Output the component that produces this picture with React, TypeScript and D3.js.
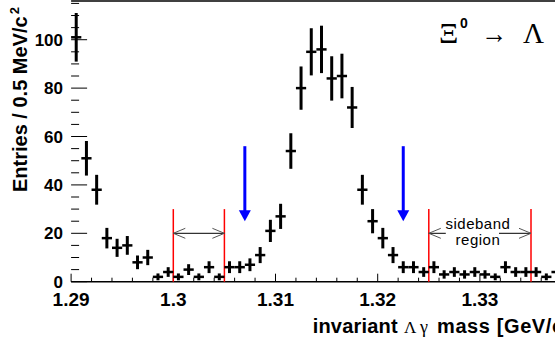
import * as d3 from 'd3'
import { useRef, useEffect } from 'react'

const W = 555, H = 347

// histogram: 1 MeV bins starting at 1.290 GeV
const binStart = 1.29
const binWidth = 0.001
const counts = [101, 51, 38, 18, 14, 15, 8, 10, 2, 4, 2, 5, 2, 6, 2, 6, 6, 7, 11, 21, 27,
  54, 80, 95, 96, 84, 85, 72, 38, 25, 18, 11, 6, 6, 4, 6, 3, 4, 3, 4, 3, 2, 6, 4, 4, 4, 2, 4]

const xTickMajor = [1.29, 1.3, 1.31, 1.32, 1.33]
const xTickLabels = ['1.29', '1.3', '1.31', '1.32', '1.33']
const yTickMajor = [0, 20, 40, 60, 80, 100]

// sideband limits (red lines) and signal window arrows (blue)
const sidebandEdges = [1.300, 1.305, 1.325, 1.335]
const redTop = 30
const sidebandPairs = [[1.300, 1.305], [1.325, 1.335]]
const arrowLevel = 20
const signalArrows = [1.307, 1.3225]
const blueFrom = 56, blueTo = 25

const SANS = '"Liberation Sans", Arial, Helvetica, sans-serif'
const SERIF = '"Liberation Serif", "Times New Roman", serif'

export default function App() {
  const svgRef = useRef<SVGSVGElement>(null)

  useEffect(() => {
    const svg = d3.select(svgRef.current)
    svg.selectAll('*').remove()

    const x = d3.scaleLinear().domain([1.29, 1.34]).range([71.1, 582.1])
    const y = d3.scaleLinear().domain([0, 116]).range([281.7, 1])
    const x0 = x(1.29), x1 = x(1.34)

    // frame: top line and bottom axis
    svg.append('line').attr('x1', x0).attr('x2', x1).attr('y1', y(116)).attr('y2', y(116))
      .attr('stroke', '#000').attr('stroke-width', 1.5)
    svg.append('line').attr('x1', x0).attr('x2', x1).attr('y1', y(0)).attr('y2', y(0))
      .attr('stroke', '#000').attr('stroke-width', 1.5)

    // x ticks (minor every 2 MeV)
    const xMinor = d3.range(0, 26).map(i => 1.29 + i * 0.002)
    xMinor.forEach(t => {
      const major = xTickMajor.some(m => Math.abs(m - t) < 1e-6)
      svg.append('line').attr('x1', x(t)).attr('x2', x(t))
        .attr('y1', y(0)).attr('y2', y(0) - (major ? 8 : 4))
        .attr('stroke', '#000').attr('stroke-width', 1)
    })
    xTickMajor.forEach((t, i) => {
      svg.append('text').attr('x', x(t)).attr('y', 306).attr('text-anchor', 'middle')
        .attr('font-family', SANS).attr('font-weight', 'bold').attr('font-size', 19)
        .text(xTickLabels[i])
    })

    // y ticks (minor every 5)
    d3.range(0, 116, 5).forEach(t => {
      const major = t % 20 === 0
      svg.append('line').attr('x1', x0).attr('x2', x0 + (major ? 16 : 8))
        .attr('y1', y(t)).attr('y2', y(t))
        .attr('stroke', '#000').attr('stroke-width', 1)
    })
    yTickMajor.forEach(t => {
      svg.append('text').attr('x', 63).attr('y', y(t) + 6).attr('text-anchor', 'end')
        .attr('font-family', SANS).attr('font-weight', 'bold').attr('font-size', 17)
        .text(t)
    })

    // axis titles
    const yt = svg.append('text').attr('transform', 'translate(27,192) rotate(-90)')
      .attr('font-family', SANS).attr('font-weight', 'bold').attr('font-size', 20)
    yt.append('tspan').text('Entries / 0.5 MeV/c')
    yt.append('tspan').attr('dy', -8).attr('dx', 2).attr('font-size', 13).text('2')

    const xtStyle = (s: any) => s.attr('y', 333).attr('font-size', 20)
    xtStyle(svg.append('text')).attr('x', 312.7).attr('font-family', SANS).attr('font-weight', 'bold')
      .attr('letter-spacing', 0.2).text('invariant')
    xtStyle(svg.append('text')).attr('x', 404).attr('font-family', SERIF).attr('font-size', 17).text('Λ')
    xtStyle(svg.append('text')).attr('x', 420).attr('font-family', SERIF).attr('font-size', 18).text('γ')
    xtStyle(svg.append('text')).attr('x', 437).attr('font-family', SANS).attr('font-weight', 'bold')
      .attr('letter-spacing', 0.6).text('mass [GeV/c²]')

    // title
    svg.append('text').attr('x', 439).attr('y', 43).attr('font-family', SERIF).attr('font-size', 30).text('Ξ')
    svg.append('text').attr('x', 460).attr('y', 28).attr('font-family', SANS).attr('font-weight', 'bold').attr('font-size', 14).text('0')
    svg.append('text').attr('x', 481).attr('y', 43).attr('font-family', SERIF).attr('font-size', 28)
      .attr('textLength', 26).attr('lengthAdjust', 'spacingAndGlyphs').text('→')
    svg.append('text').attr('x', 523).attr('y', 43).attr('font-family', SERIF).attr('font-size', 29).text('Λ')

    // red sideband lines
    sidebandEdges.forEach(e => {
      svg.append('line').attr('x1', x(e)).attr('x2', x(e)).attr('y1', y(0)).attr('y2', y(redTop))
        .attr('stroke', '#ff0000').attr('stroke-width', 1.5)
    })

    // double arrows marking the sidebands
    const ay = y(arrowLevel)
    sidebandPairs.forEach(([a, b], i) => {
      const xa = x(a), xb = x(b)
      if (i === 0) {
        svg.append('line').attr('x1', xa).attr('x2', xb).attr('y1', ay).attr('y2', ay)
          .attr('stroke', '#000').attr('stroke-width', 1)
      } else {
        svg.append('line').attr('x1', xa).attr('x2', xa + 17).attr('y1', ay).attr('y2', ay)
          .attr('stroke', '#000').attr('stroke-width', 1)
        svg.append('line').attr('x1', xb - 32).attr('x2', xb).attr('y1', ay).attr('y2', ay)
          .attr('stroke', '#000').attr('stroke-width', 1)
      }
      svg.append('path').attr('d', `M${xa + 12},${ay - 5}L${xa},${ay}L${xa + 12},${ay + 5}`)
        .attr('fill', 'none').attr('stroke', '#555').attr('stroke-width', 1)
      svg.append('path').attr('d', `M${xb - 12},${ay - 5}L${xb},${ay}L${xb - 12},${ay + 5}`)
        .attr('fill', 'none').attr('stroke', '#555').attr('stroke-width', 1)
    })
    const sbx = x((sidebandPairs[1][0] + sidebandPairs[1][1]) / 2) - 2
    svg.append('text').attr('x', sbx).attr('y', 229).attr('text-anchor', 'middle')
      .attr('font-family', SANS).attr('font-size', 15).attr('letter-spacing', 0.5).text('sideband')
    svg.append('text').attr('x', sbx).attr('y', 245).attr('text-anchor', 'middle')
      .attr('font-family', SANS).attr('font-size', 15).attr('letter-spacing', 0.5).text('region')

    // blue arrows
    signalArrows.forEach(a => {
      const ax = x(a), tip = y(blueTo)
      svg.append('line').attr('x1', ax).attr('x2', ax).attr('y1', y(blueFrom)).attr('y2', tip - 10)
        .attr('stroke', '#0000ff').attr('stroke-width', 3)
      svg.append('path').attr('d', `M${ax - 6},${tip - 11}L${ax + 6},${tip - 11}L${ax},${tip}Z`)
        .attr('fill', '#0000ff')
    })

    // histogram points with Poisson errors
    const pts = svg.append('g')
    counts.forEach((c, i) => {
      const lo = binStart + i * binWidth
      const cx = x(lo + binWidth / 2)
      const err = Math.sqrt(c)
      pts.append('line').attr('x1', x(lo)).attr('x2', x(lo + binWidth)).attr('y1', y(c)).attr('y2', y(c))
        .attr('stroke', '#000').attr('stroke-width', 2.5)
      pts.append('line').attr('x1', cx).attr('x2', cx).attr('y1', y(c - err)).attr('y2', y(c + err))
        .attr('stroke', '#000').attr('stroke-width', 3)
    })
  }, [])

  return (
    <div style={{ position: 'absolute', left: 0, top: 0 }}>
      <svg ref={svgRef} width={W} height={H} style={{ display: 'block', background: '#fff' }} />
    </div>
  )
}
